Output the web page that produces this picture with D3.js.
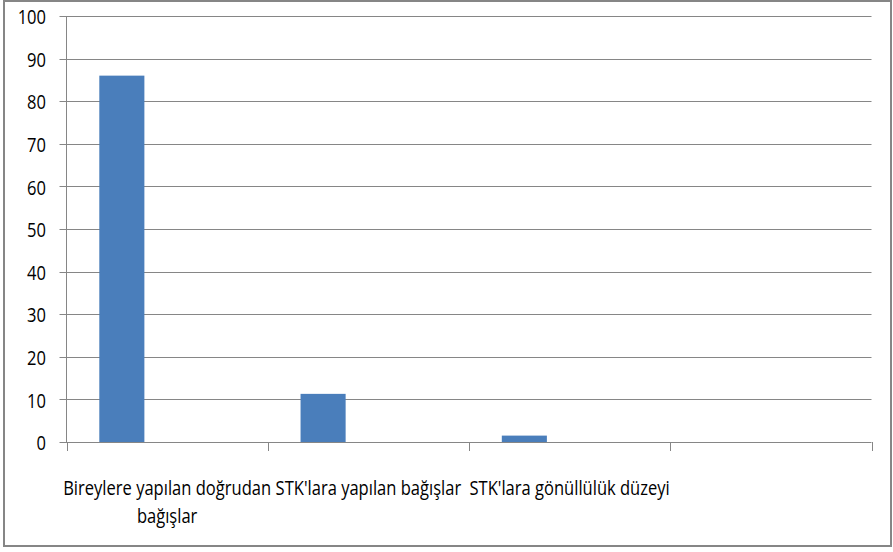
<!DOCTYPE html>
<html><head><meta charset="utf-8">
<script src="https://cdn.jsdelivr.net/npm/d3@7"></script>
<style>
html,body{margin:0;padding:0;background:#fff;}
text{font-family:"Open Sans",sans-serif;fill:#000;}
</style></head>
<body>
<svg id="chart" width="893" height="552"></svg>
<script>
const categories = ["Bireylere yapılan doğrudan bağışlar", "STK'lara yapılan bağışlar", "STK'lara gönüllülük düzeyi", ""];
const categoryLines = [["Bireylere yapılan doğrudan", "bağışlar"], ["STK'lara yapılan bağışlar"], ["STK'lara gönüllülük düzeyi"], []];
const values = [86, 11.3, 1.5, null];
const yTicks = [0, 10, 20, 30, 40, 50, 60, 70, 80, 90, 100];

(function () {
const svg = d3.select("#chart");
const pLeft = 66.5, pRight = 871.5, pTop = 16, pBottom = 442;
const fs = 20;

svg.append("rect").attr("x", 4).attr("y", 1).attr("width", 887).attr("height", 545)
  .attr("fill", "#fff").attr("stroke", "#868686").attr("stroke-width", 2);

const x = d3.scaleBand().domain(categories.map((d, i) => i)).range([pLeft, pRight]).padding(0);
const y = d3.scaleLinear().domain([0, 100]).range([pBottom, pTop]);

svg.append("g").selectAll("line").data(yTicks).join("line")
  .attr("x1", pLeft - 7).attr("x2", pRight)
  .attr("y1", d => Math.round(y(d)) + 0.5).attr("y2", d => Math.round(y(d)) + 0.5)
  .attr("stroke", "#868686").attr("stroke-width", 1);

svg.append("line").attr("x1", pLeft).attr("x2", pLeft).attr("y1", pTop).attr("y2", pBottom + 0.5)
  .attr("stroke", "#868686");

// measure horizontal condense factor (reference font is narrow)
const probe = svg.append("text").attr("font-size", fs).text(categoryLines[0][0]);
const k = 208 / probe.node().getComputedTextLength();
probe.remove();

const yl = svg.append("g").selectAll("g").data(yTicks).join("g")
  .attr("transform", d => `translate(46,${y(d)}) scale(${k},1)`);
yl.append("text").attr("text-anchor", "end")
  .attr("dominant-baseline", "central").attr("font-size", fs)
  .text(d => d);

const tickXs = categories.map((d, i) => x(i)).concat([pRight]);
svg.append("g").selectAll("line").data(tickXs).join("line")
  .attr("x1", d => Math.round(d) + 0.5).attr("x2", d => Math.round(d) + 0.5)
  .attr("y1", pBottom).attr("y2", pBottom + 9)
  .attr("stroke", "#868686");

const bw = x.bandwidth();
svg.append("g").selectAll("rect").data(values.map((v, i) => ({v, i})).filter(d => d.v != null)).join("rect")
  .attr("x", d => x(d.i) + bw * 0.163)
  .attr("width", bw * 0.224)
  .attr("y", d => y(d.v))
  .attr("height", d => y(0) - y(d.v))
  .attr("fill", "#4a7ebb");

const lg = svg.append("g");
categoryLines.forEach((lines, i) => {
  lines.forEach((ln, j) => {
    lg.append("g").attr("transform", `translate(${x(i) + bw / 2},${487 + j * 28}) scale(${k},1)`)
      .append("text").attr("text-anchor", "middle").attr("dominant-baseline", "central")
      .attr("font-size", fs).text(ln);
  });
});
})();
</script>
</body></html>
